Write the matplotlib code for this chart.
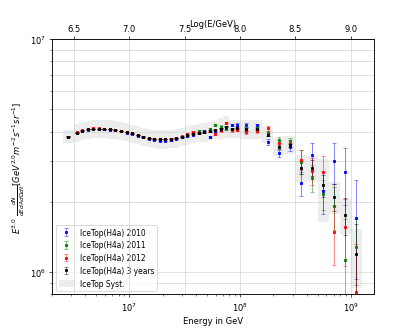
import numpy as np
import matplotlib
matplotlib.use('Agg')
import matplotlib.pyplot as plt
from matplotlib.patches import Patch
from matplotlib.ticker import NullFormatter

# bin centres and edges in log10(E/GeV)
log_e = [6.45, 6.525, 6.575, 6.625, 6.675, 6.725, 6.775, 6.825, 6.875, 6.925,
         6.975, 7.025, 7.075, 7.125, 7.175, 7.225, 7.275, 7.325, 7.375, 7.425,
         7.475, 7.525, 7.575, 7.625, 7.675, 7.725, 7.775, 7.825, 7.875, 7.925,
         7.975, 8.05, 8.15, 8.25, 8.35, 8.45, 8.55, 8.65, 8.75, 8.85, 8.95, 9.05]
log_edges = [6.4, 6.5, 6.55, 6.6, 6.65, 6.7, 6.75, 6.8, 6.85, 6.9, 6.95,
             7.0, 7.05, 7.1, 7.15, 7.2, 7.25, 7.3, 7.35, 7.4, 7.45,
             7.5, 7.55, 7.6, 7.65, 7.7, 7.75, 7.8, 7.85, 7.9, 7.95,
             8.0, 8.1, 8.2, 8.3, 8.4, 8.5, 8.6, 8.7, 8.8, 8.9, 9.0, 9.1]

# E^3 flux, units of 1e6 GeV^2 m^-2 s^-1 sr^-1
flux_2010 = [3.81, 3.95, 4.03, 4.08, 4.10, 4.09, 4.09, 4.08, 4.05, 4.01,
             3.96, 3.90, 3.84, 3.78, 3.71, 3.68, 3.66, 3.66, 3.67, 3.71,
             3.78, 3.84, 3.88, 3.93, 4.04, 3.80, 4.02, 4.08, 4.16, 4.26,
             4.28, 4.27, 4.25, 3.60, 3.23, 3.42, 2.40, 3.16, 2.23, 2.99, 2.67, 1.70]
flux_2011 = [3.81, 3.96, 4.04, 4.09, 4.11, 4.11, 4.11, 4.10, 4.07, 4.03,
             3.99, 3.93, 3.87, 3.81, 3.76, 3.73, 3.72, 3.72, 3.73, 3.76,
             3.80, 3.86, 3.95, 4.02, 3.99, 4.12, 4.28, 4.20, 4.12, 4.10,
             4.12, 4.12, 4.13, 3.94, 3.68, 3.65, 2.97, 2.54, 2.16, 1.91, 1.13, 1.28]
flux_2012 = [3.81, 3.97, 4.05, 4.10, 4.13, 4.13, 4.12, 4.11, 4.08, 4.03,
             3.99, 3.93, 3.87, 3.81, 3.76, 3.73, 3.72, 3.72, 3.73, 3.75,
             3.83, 3.91, 4.00, 3.95, 3.97, 4.02, 3.91, 4.05, 4.34, 4.05,
             4.08, 3.97, 4.02, 4.14, 3.57, 3.55, 3.03, 2.72, 2.69, 1.49, 1.56, 0.82]
flux_3yr = [3.81, 3.96, 4.04, 4.09, 4.11, 4.11, 4.11, 4.10, 4.07, 4.03,
            3.99, 3.93, 3.87, 3.81, 3.76, 3.73, 3.71, 3.71, 3.72, 3.75,
            3.80, 3.86, 3.92, 3.96, 3.98, 4.02, 4.08, 4.12, 4.20, 4.12,
            4.13, 4.10, 4.10, 3.88, 3.45, 3.51, 2.80, 2.79, 2.35, 2.10, 1.76, 1.19]

err_2010 = [0.01]*21 + [0.03, 0.03, 0.03, 0.04, 0.04, 0.04, 0.05, 0.05, 0.05,
                        0.06, 0.08, 0.08, 0.10, 0.12, 0.12, 0.29, 0.41, 0.45, 0.60, 0.73, 0.77]
err_2011 = [0.01]*21 + [0.03, 0.03, 0.03, 0.04, 0.04, 0.04, 0.05, 0.05, 0.05,
                        0.06, 0.08, 0.08, 0.10, 0.12, 0.12, 0.35, 0.33, 0.32, 0.40, 0.55, 0.40]
err_2012 = [0.01]*21 + [0.03, 0.03, 0.03, 0.04, 0.04, 0.04, 0.05, 0.05, 0.05,
                        0.06, 0.07, 0.07, 0.10, 0.12, 0.12, 0.30, 0.35, 0.45, 0.42, 0.50, 0.50]
err_3yr = [0.005]*21 + [0.02, 0.02, 0.02, 0.02, 0.02, 0.03, 0.03, 0.03, 0.03,
                        0.03, 0.04, 0.04, 0.06, 0.07, 0.07, 0.18, 0.22, 0.25, 0.28, 0.32, 0.42]

# relative systematic uncertainty of the combined spectrum
syst_rel = [0.065] + [0.09]*26 + [0.11, 0.11, 0.09, 0.09,
            0.09, 0.09, 0.08, 0.09, 0.09, 0.13, 0.13, 0.30, 0.16, 0.17, 0.28]

energy = 10 ** np.array(log_e)
lo = 10 ** np.array(log_edges[:-1])
hi = 10 ** np.array(log_edges[1:])
flux = np.array(flux_3yr) * 1e6
band = flux * np.array(syst_rel)

fig, ax = plt.subplots(figsize=(6.9, 5.52))
ax.bar(lo, 2 * band, width=hi - lo, bottom=flux - band, align='edge',
       color='0.93', linewidth=0, zorder=1)

series = [(flux_2010, err_2010, 'b', 'IceTop(H4a) 2010'),
          (flux_2011, err_2011, 'g', 'IceTop(H4a) 2011'),
          (flux_2012, err_2012, 'r', 'IceTop(H4a) 2012'),
          (flux_3yr, err_3yr, 'k', 'IceTop(H4a) 3 years')]
handles = []
for vals, errs, c, lab in series:
    eb = ax.errorbar(energy, np.array(vals) * 1e6, yerr=np.array(errs) * 1e6,
                     fmt='s', color=c, ms=3.5, capsize=2, elinewidth=1.1,
                     label=lab, zorder=3)
    for l in eb[1]:
        l.set_alpha(0.5)
    for l in eb[2]:
        l.set_alpha(0.5)
    handles.append(eb)
handles.append(Patch(color='0.93', label='IceTop Syst.'))

ax.set_xscale('log')
ax.set_yscale('log')
ax.set_xlim(2e6, 1.6e9)
ax.set_ylim(8e5, 1e7)
ax.yaxis.set_minor_formatter(NullFormatter())
ax.grid(True, which='both', axis='y', color='0.82')
ax.set_xlabel('Energy in GeV')
ax.set_ylabel(r'$E^{3.0}\ \frac{dN}{dEdAd\Omega dt} [GeV^{2.0}m^{-2}s^{-1}sr^{-1}]$')
ax.legend(handles=handles, loc='lower left', fontsize=9)

ax2 = ax.twiny()
ax2.set_xlim(np.log10(2e6), np.log10(1.6e9))
ax2.set_xticks([6.5, 7.0, 7.5, 8.0, 8.5, 9.0])
ax2.grid(True, axis='x', color='0.82')
ax2.set_xlabel('Log(E/GeV)', labelpad=-2)

fig.savefig('out.png', dpi=415 / 6.9)
